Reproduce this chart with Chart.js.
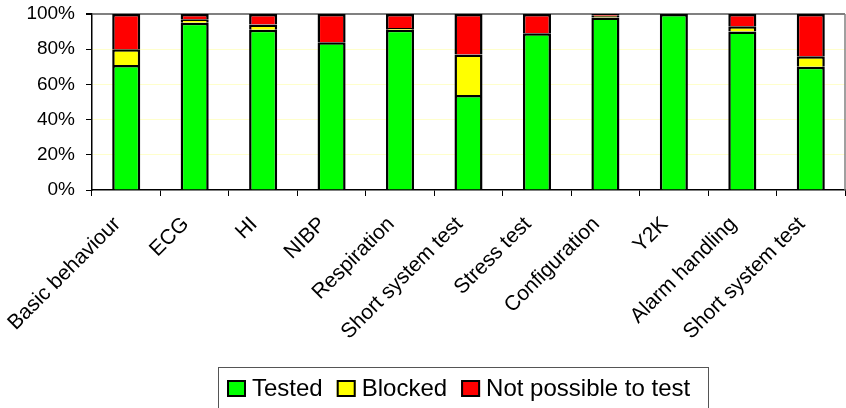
<!DOCTYPE html>
<html>
<head>
<meta charset="utf-8">
<script src="https://cdn.jsdelivr.net/npm/chart.js@4/dist/chart.umd.min.js"></script>
<style>
  html, body { margin: 0; padding: 0; background: #fff; }
  #wrap { width: 846px; height: 408px; }
</style>
</head>
<body>
<div id="wrap"><canvas id="myChart" width="846" height="408"></canvas></div>
<script>
var categories = [
    'Basic behaviour', 'ECG', 'HI', 'NIBP', 'Respiration', 'Short system test',
    'Stress test', 'Configuration', 'Y2K', 'Alarm handling', 'Short system test'
];
var tested   = [71, 95, 91, 84, 91, 54, 89, 98, 100, 90, 70];
var blocked  = [ 9,  2,  3,  0,  1, 23,  0,  1,   0,  3,  6];
var notPossible = [20, 3, 6, 16, 8, 23, 11,  1,   0,  7, 24];
var yTicks = [0, 20, 40, 60, 80, 100];

var FONT = '"Liberation Sans", Arial, sans-serif';

// legend drawn in its own framed box, like the original
var boxLegend = {
    id: 'boxLegend',
    afterDraw: function(chart) {
        var c = chart.ctx;
        c.save();
        c.strokeStyle = '#555';
        c.lineWidth = 1;
        c.strokeRect(218.5, 367.5, 490, 50);
        c.font = '24px ' + FONT;
        c.textBaseline = 'middle';
        var x = 227;
        chart.data.datasets.forEach(function(ds) {
            c.fillStyle = ds.backgroundColor;
            c.fillRect(x, 380, 19, 17);
            c.strokeStyle = '#000';
            c.lineWidth = 2;
            c.strokeRect(x + 1, 381, 17, 15);
            c.fillStyle = '#000';
            c.fillText(ds.label, x + 25, 389);
            x += 25 + c.measureText(ds.label).width + 14;
        });
        c.restore();
    }
};

// gray frame line on the right of the plot area
var rightFrame = {
    id: 'rightFrame',
    beforeDatasetsDraw: function(chart) {
        var a = chart.chartArea, c = chart.ctx;
        c.save();
        c.strokeStyle = '#808080';
        c.lineWidth = 1.5;
        c.beginPath();
        c.moveTo(a.right, a.top);
        c.lineTo(a.right, a.bottom);
        c.stroke();
        c.restore();
    }
};

var ctx = document.getElementById('myChart').getContext('2d');
var myChart = new Chart(ctx, {
    type: 'bar',
    data: {
        labels: categories,
        datasets: [{
            label: 'Tested',
            data: tested,
            backgroundColor: '#00FF00',
            borderColor: '#000',
            borderWidth: 2.5
        }, {
            label: 'Blocked',
            data: blocked,
            backgroundColor: '#FFFF00',
            borderColor: '#000',
            borderWidth: 2.5
        }, {
            label: 'Not possible to test',
            data: notPossible,
            backgroundColor: '#FF0000',
            borderColor: '#000',
            borderWidth: 2.5
        }]
    },
    options: {
        responsive: false,
        animation: false,
        layout: { padding: { top: 14, right: 1, left: 0, bottom: 0 } },
        datasets: { bar: { barPercentage: 0.41, categoryPercentage: 1 } },
        plugins: {
            legend: { display: false },
            tooltip: { enabled: false }
        },
        scales: {
            x: {
                stacked: true,
                afterFit: function(s) { s.height = 218; },
                grid: {
                    offset: true,
                    drawOnChartArea: false,
                    tickColor: '#000',
                    tickLength: 6
                },
                border: { color: '#000', width: 1.5 },
                ticks: {
                    color: '#000',
                    font: { family: FONT, size: 21 },
                    minRotation: 45,
                    maxRotation: 45,
                    autoSkip: false,
                    padding: 16,
                    labelOffset: -9
                }
            },
            y: {
                stacked: true,
                min: 0,
                max: 100,
                afterFit: function(s) {
                    s.width = 92;
                    s.paddingTop = 0;
                    s.paddingBottom = 0;
                },
                afterBuildTicks: function(s) {
                    s.ticks = yTicks.map(function(v) { return { value: v }; });
                },
                grid: {
                    color: function(c) {
                        if (c.tick.value === 100) return '#808080';
                        if (c.tick.value === 0) return 'rgba(0,0,0,0)';
                        return '#FFFFCC';
                    },
                    lineWidth: function(c) { return c.tick.value === 100 ? 2 : 1; },
                    tickColor: '#000',
                    tickLength: 6
                },
                border: { color: '#000', width: 1.5 },
                ticks: {
                    color: '#000',
                    font: { family: FONT, size: 19 },
                    padding: 11,
                    callback: function(v) { return v + '%'; }
                }
            }
        }
    },
    plugins: [rightFrame, boxLegend]
});
</script>
</body>
</html>
